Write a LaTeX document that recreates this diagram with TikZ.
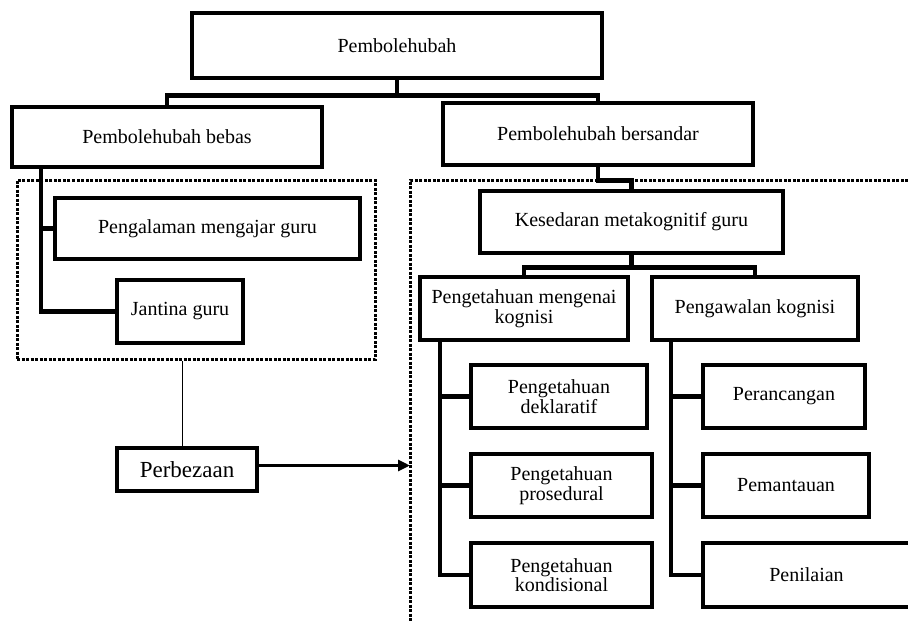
\documentclass[tikz,border=0pt]{standalone}
\usepackage{fontspec}
\setmainfont{Liberation Serif}
\usetikzlibrary{arrows.meta}
\begin{document}
\begin{tikzpicture}[x=1pt,y=-1pt,
  box/.style={draw,line width=4.5pt,inner sep=0pt,align=center,
    font=\fontsize{20}{19.5}\selectfont},
  conn/.style={line width=4.5pt},
  grp/.style={line width=3pt,dash pattern=on 3pt off 1.5pt},
  thinln/.style={line width=1pt}]
\useasboundingbox (0,0) rectangle (908,621);
\clip (0,0) rectangle (908,621);
% boxes
\node[box,minimum width=410pt,minimum height=65pt] (top) at (397,45.5) {Pembolehubah};
\node[box,minimum width=310pt,minimum height=60pt] (bebas) at (167,137) {Pembolehubah bebas};
\node[box,minimum width=310pt,minimum height=62pt] (bersandar) at (598,134) {Pembolehubah bersandar};
\node[box,minimum width=305pt,minimum height=61pt] (pengalaman) at (207.5,228.5) {Pengalaman mengajar guru};
\node[box,minimum width=126pt,minimum height=63pt] (jantina) at (180,311.5) {Jantina guru};
\node[box,minimum width=140pt,minimum height=43pt,font=\fontsize{23}{24}\selectfont] (perbezaan) at (187,469.5) {Perbezaan};
\node[box,minimum width=303pt,minimum height=62pt] (kesedaran) at (631.5,222) {Kesedaran metakognitif guru};
\node[box,minimum width=208pt,minimum height=63pt] (mengenai) at (524,308.5) {Pengetahuan mengenai\\kognisi};
\node[box,minimum width=206pt,minimum height=63pt] (pengawalan) at (755,308.5) {Pengawalan kognisi};
\node[box,minimum width=176pt,minimum height=63pt] (deklaratif) at (559,396.5) {Pengetahuan\\deklaratif};
\node[box,minimum width=181pt,minimum height=63pt] (prosedural) at (561.5,485.5) {Pengetahuan\\prosedural};
\node[box,minimum width=181pt,minimum height=64pt] (kondisional) at (561.5,575) {Pengetahuan\\kondisional};
\node[box,minimum width=162pt,minimum height=63pt] (perancangan) at (784,396.5) {Perancangan};
\node[box,minimum width=166pt,minimum height=63pt] (pemantauan) at (786,485.5) {Pemantauan};
\node[box,minimum width=207pt,minimum height=64pt] (penilaian) at (806.5,575) {Penilaian};
% group outlines
\node[grp,draw,inner sep=0pt,minimum width=358pt,minimum height=179pt] (grpL) at (196,269.5) {};
\coordinate (grpRtop) at (908,180);
\coordinate (grpRcorner) at (410,180);
\coordinate (grpRbottom) at (410,621);
\draw[grp] (grpRtop) -- (grpRcorner) -- (grpRbottom);
% connectors
\draw[conn] (top.south) -- +(0,15) -| (bebas.north);
\draw[conn] (top.south) -- +(0,15) -| (bersandar.north);
\draw[conn] (bersandar.south) -- +(0,13) -| (kesedaran.north);
\draw[conn] (kesedaran.south) -- +(0,12) -| (mengenai.north);
\draw[conn] (kesedaran.south) -- +(0,12) -| (pengawalan.north);
\draw[conn] ([xshift=31pt]bebas.south west) |- (pengalaman.west);
\draw[conn] ([xshift=31pt]bebas.south west) |- (jantina.west);
\draw[conn] ([xshift=22pt]mengenai.south west) |- (deklaratif.west);
\draw[conn] ([xshift=22pt]mengenai.south west) |- (prosedural.west);
\draw[conn] ([xshift=22pt]mengenai.south west) |- (kondisional.west);
\draw[conn] ([xshift=21pt]pengawalan.south west) |- (perancangan.west);
\draw[conn] ([xshift=21pt]pengawalan.south west) |- (pemantauan.west);
\draw[conn] ([xshift=21pt]pengawalan.south west) |- (penilaian.west);
\draw[thinln] ([xshift=-5pt]perbezaan.north) -- ([xshift=-5pt]perbezaan.north |- grpL.south);
\draw[line width=3pt,-{Triangle[length=12pt,width=11pt]}] ([yshift=4pt]perbezaan.east) -- ([yshift=4pt]perbezaan.east -| grpRcorner);
\end{tikzpicture}
\end{document}
